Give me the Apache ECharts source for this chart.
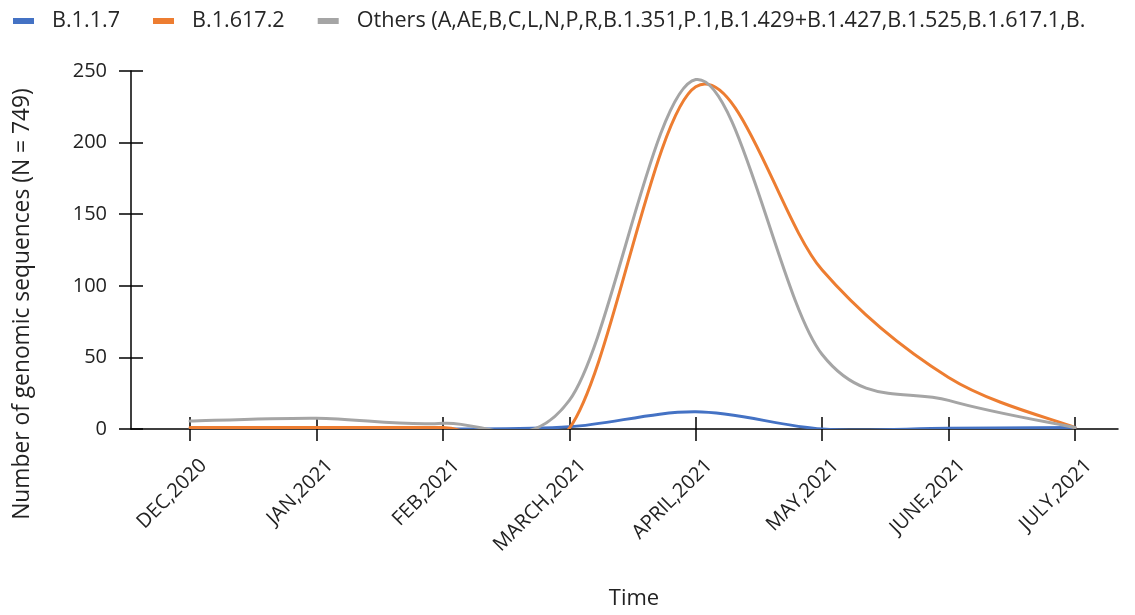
<!DOCTYPE html>
<html>
<head>
<meta charset="utf-8">
<script src="https://cdn.jsdelivr.net/npm/echarts@6/dist/echarts.min.js"></script>
<style>html,body{margin:0;padding:0;background:#fff}#c{width:1135px;height:615px}</style>
</head>
<body>
<div id="c"></div>
<script>
const categories = ['DEC,2020','JAN,2021','FEB,2021','MARCH,2021','APRIL,2021','MAY,2021','JUNE,2021','JULY,2021'];
const seriesNames = ['B.1.1.7','B.1.617.2','Others (A,AE,B,C,L,N,P,R,B.1.351,P.1,B.1.429+B.1.427,B.1.525,B.1.617.1,B.'];
const b117 = [0, 0, 0, 1.5, 12, 0, 0.5, 1];
const b16172 = [1, 1, 1, 0.5, 239, 111, 36, 1];
const others = [5.5, 7.5, 4, 20, 244, 52, 20, 1];
const yTicks = [0, 50, 100, 150, 200, 250];

const FONT = 'Open Sans';
const colors = ['#4472C4', '#ED7D31', '#A5A5A5'];
const pts = arr => arr.map((v, i) => [i, v]);
const idx = categories.map((c, i) => i);

// Spreadsheet-style smoothed line: cubic Bezier through every data point,
// positions obtained from the chart's own scales via api.coord.
function splineSeries(name, values, color, z) {
  return {
    name: name, type: 'custom', coordinateSystem: 'cartesian2d',
    xAxisIndex: 0, yAxisIndex: 0, clip: true, z: z,
    itemStyle: {color: color},
    data: pts(values),
    encode: {x: 0, y: 1},
    renderItem: function (params, api) {
      if (params.dataIndex !== 0) return null;
      const P = values.map((v, i) => api.coord([i, v]));
      const n = P.length;
      let d = 'M' + P[0][0] + ',' + P[0][1];
      for (let i = 0; i < n - 1; i++) {
        const p0 = P[Math.max(i - 1, 0)], p1 = P[i], p2 = P[i + 1], p3 = P[Math.min(i + 2, n - 1)];
        const c1x = p1[0] + (p2[0] - p0[0]) / 6, c1y = p1[1] + (p2[1] - p0[1]) / 6;
        const c2x = p2[0] - (p3[0] - p1[0]) / 6, c2y = p2[1] - (p3[1] - p1[1]) / 6;
        d += ' C' + c1x + ',' + c1y + ' ' + c2x + ',' + c2y + ' ' + p2[0] + ',' + p2[1];
      }
      return {
        type: 'path',
        shape: {pathData: d},
        style: {fill: 'none', stroke: color, lineWidth: 3, lineJoin: 'round', lineCap: 'round'}
      };
    }
  };
}

const chart = echarts.init(document.getElementById('c'), null, {renderer: 'canvas'});
const gridBox = {left: 131, right: 17, top: 71, bottom: 186};
const tickStyle = {color: '#000', width: 1.5};
const option = {
  animation: false,
  color: colors,
  textStyle: {fontFamily: FONT},
  legend: {
    left: 8, top: 5,
    itemWidth: 21, itemHeight: 6, itemGap: 33,
    icon: 'rect',
    textStyle: {fontFamily: FONT, fontSize: 21.6, color: '#262626', padding: [0, 0, 0, 13]},
    data: seriesNames
  },
  grid: [Object.assign({}, gridBox), Object.assign({}, gridBox)],
  xAxis: [{
    type: 'value', gridIndex: 0,
    min: -0.467, max: 7.34,
    splitLine: {show: false},
    axisLine: {show: true, onZero: false, lineStyle: {color: '#000', width: 1.5}},
    axisTick: {show: true, length: 12, customValues: idx, lineStyle: tickStyle},
    axisLabel: {
      customValues: idx, rotate: 45, margin: 20,
      align: 'right', verticalAlign: 'top', padding: [9, 0, 0, 0],
      fontFamily: FONT, fontSize: 20, color: '#222',
      formatter: v => categories[Math.round(v)]
    }
  }, {
    type: 'value', gridIndex: 1,
    min: -0.467, max: 7.34,
    splitLine: {show: false},
    axisLine: {show: false, onZero: false},
    axisTick: {show: true, inside: true, length: 12, customValues: idx, lineStyle: tickStyle},
    axisLabel: {show: false}
  }],
  yAxis: [{
    type: 'value', gridIndex: 0,
    min: 0, max: 250, interval: 50,
    splitLine: {show: false},
    axisLine: {show: true, onZero: false, lineStyle: {color: '#000', width: 1.5}},
    axisTick: {show: true, length: 12, lineStyle: tickStyle},
    axisLabel: {margin: 24, fontFamily: FONT, fontSize: 20, color: '#222',
      formatter: v => yTicks.includes(v) ? String(v) : ''}
  }, {
    type: 'value', gridIndex: 1,
    min: 0, max: 250, interval: 50,
    splitLine: {show: false},
    axisLine: {show: false, onZero: false},
    axisTick: {show: true, inside: true, length: 12, lineStyle: tickStyle},
    axisLabel: {show: false}
  }],
  graphic: [{
    type: 'text', x: 634, y: 599,
    style: {text: 'Time', fontFamily: FONT, fontSize: 22, fill: '#222', align: 'center', verticalAlign: 'middle'}
  }, {
    type: 'text', x: 23, y: 304, rotation: Math.PI / 2,
    style: {text: 'Number of genomic sequences (N = 749)', fontFamily: FONT, fontSize: 22.8, fill: '#222',
      align: 'center', verticalAlign: 'middle'}
  }],
  series: [
    splineSeries(seriesNames[0], b117, colors[0], 2),
    splineSeries(seriesNames[1], b16172, colors[1], 3),
    splineSeries(seriesNames[2], others, colors[2], 4)
  ]
};
chart.setOption(option);
</script>
</body>
</html>
